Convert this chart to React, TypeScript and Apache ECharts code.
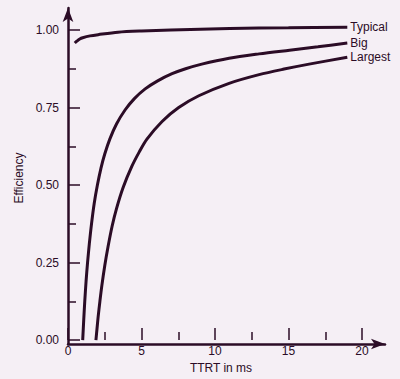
import React, { useEffect, useRef } from "react";
import * as echarts from "echarts";

// TTRT (ms) values and efficiency readings for each curve
const typicalT = [0.46, 0.6, 0.8, 1.0, 1.5, 2.05, 3.4, 5, 7, 11, 15, 19];
const typicalE = [0.958, 0.964, 0.971, 0.975, 0.981, 0.985, 0.993, 0.997, 1.0, 1.005, 1.007, 1.009];

const bigT = [1.0, 1.07, 1.14, 1.23, 1.33, 1.45, 1.6, 1.78, 2.0, 2.24, 2.5, 2.85, 3.3, 3.88, 4.5, 5.25, 6.1, 7.08, 8, 9.1, 10.96, 13, 15.07, 17, 19];
const bigE = [0.0, 0.065, 0.125, 0.19, 0.25, 0.31, 0.375, 0.44, 0.5, 0.554, 0.6, 0.649, 0.697, 0.742, 0.778, 0.81, 0.836, 0.859, 0.875, 0.89, 0.909, 0.923, 0.935, 0.946, 0.958];

const largestT = [1.9, 1.97, 2.05, 2.17, 2.3, 2.5, 2.72, 3.0, 3.3, 3.75, 4.34, 4.85, 5.37, 6.4, 7.53, 8.9, 10.96, 13, 14.7, 16.4, 19];
const largestE = [0.0, 0.035, 0.075, 0.125, 0.175, 0.24, 0.3, 0.367, 0.424, 0.492, 0.56, 0.607, 0.648, 0.705, 0.75, 0.788, 0.828, 0.856, 0.874, 0.89, 0.912];

const seriesNames = ["Typical", "Big", "Largest"];
const xTickLabels = ["0", "5", "10", "15", "20"];
const yTickLabels = ["0.00", "0.25", "0.50", "0.75", "1.00"];

const INK = "#2b0c26";
const FONT = "Liberation Sans, Arial, sans-serif";

function pairs(t: number[], e: number[]) {
  return t.map((v, i) => [v, e[i]]);
}

export default function App() {
  const ref = useRef<HTMLDivElement>(null);
  useEffect(() => {
    if (!ref.current) return;
    const chart = echarts.init(ref.current, undefined, { renderer: "svg" });
    const data = [pairs(typicalT, typicalE), pairs(bigT, bigE), pairs(largestT, largestE)];
    chart.setOption({
      animation: false,
      backgroundColor: "#f5eff5",
      textStyle: { fontFamily: FONT, color: INK },
      grid: [
        { left: 68, right: 38, top: 30, bottom: 35 },
        { left: 68, right: 15, top: 8, bottom: 35 },
      ],
      xAxis: [
        {
          type: "value",
          gridIndex: 0,
          min: 0,
          max: 20,
          interval: 5,
          axisLine: { show: false },
          axisTick: { show: true, inside: true, length: 12, lineStyle: { color: INK, width: 1.5 } },
          minorTick: { show: true, splitNumber: 2, length: 8, lineStyle: { color: INK, width: 1.5 } },
          splitLine: { show: false },
          axisLabel: {
            color: INK,
            fontSize: 12,
            fontFamily: FONT,
            margin: 5,
            formatter: (v: number) => xTickLabels[Math.round(v / 5)] ?? "",
          },
          name: "TTRT in ms",
          nameLocation: "middle",
          nameGap: 19,
          nameTextStyle: { color: INK, fontSize: 12, fontFamily: FONT, padding: [0, 0, 0, 12] },
        },
        {
          type: "value",
          gridIndex: 1,
          min: 0,
          max: 1,
          axisLine: { show: true, symbol: ["none", "arrow"], symbolSize: [8, 14], lineStyle: { color: INK, width: 2.5 } },
          axisTick: { show: false },
          axisLabel: { show: false },
          splitLine: { show: false },
        },
      ],
      yAxis: [
        {
          type: "value",
          gridIndex: 0,
          min: 0,
          max: 1,
          interval: 0.25,
          axisLine: { show: false },
          axisTick: { show: true, inside: true, length: 12, lineStyle: { color: INK, width: 1.5 } },
          minorTick: { show: true, splitNumber: 2, length: 8, lineStyle: { color: INK, width: 1.5 } },
          splitLine: { show: false },
          axisLabel: {
            color: INK,
            fontSize: 12,
            fontFamily: FONT,
            margin: 9,
            formatter: (v: number) => yTickLabels[Math.round(v / 0.25)] ?? "",
          },
          name: "Efficiency",
          nameLocation: "middle",
          nameGap: 42,
          nameTextStyle: { color: INK, fontSize: 12, fontFamily: FONT, padding: [0, 0, 0, 14] },
        },
        {
          type: "value",
          gridIndex: 1,
          min: 0,
          max: 1,
          axisLine: { show: true, symbol: ["none", "arrow"], symbolSize: [8, 14], lineStyle: { color: INK, width: 2.5 } },
          axisTick: { show: false },
          axisLabel: { show: false },
          splitLine: { show: false },
        },
      ],
      series: seriesNames.map((name, i) => ({
        name,
        type: "line",
        xAxisIndex: 0,
        yAxisIndex: 0,
        data: data[i],
        smooth: 0.3,
        clip: false,
        showSymbol: false,
        symbol: "none",
        lineStyle: { color: INK, width: 3 },
        endLabel: {
          show: true,
          formatter: "{a}",
          color: INK,
          fontSize: 12,
          fontFamily: FONT,
          distance: 3,
        },
      })),
    });
    return () => chart.dispose();
  }, []);
  return (
    <div
      ref={ref}
      style={{ position: "fixed", left: 0, top: 0, width: 400, height: 379 }}
    />
  );
}
